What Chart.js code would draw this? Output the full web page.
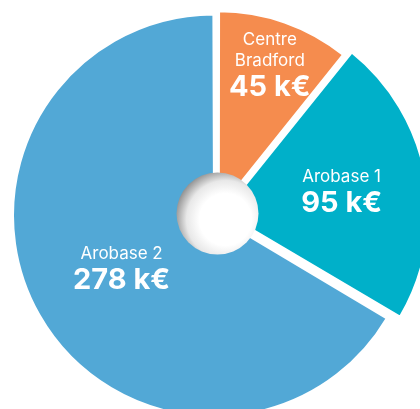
<!DOCTYPE html>
<html>
<head>
<meta charset="utf-8">
<script src="https://cdn.jsdelivr.net/npm/chart.js@4.4.1/dist/chart.umd.min.js"></script>
<style>
  html, body { margin: 0; padding: 0; background: #fff; }
  #wrap { width: 420px; height: 409px; }
</style>
</head>
<body>
<div id="wrap"><canvas id="chart"></canvas></div>
<script>
const categories = [['Centre', 'Bradford'], ['Arobase 1'], ['Arobase 2']];
const amounts = [45, 95, 278];
const unit = 'k€';
const sliceColors = ['#F58C4E', '#00B0C9', '#52A8D6'];

// how far each slice is pulled out, extra radius per slice, and where its label sits (share of radius)
const sliceOffsets = [16, 24, 16];
const sliceGrow = [0, 8, 0];
const labelRadius = [0.78, 0.61, 0.54];

// the teal slice is drawn a little bigger than the others in the original
const growPlugin = {
    id: 'grow',
    afterDatasetUpdate(chart, args) {
        args.meta.data.forEach((arc, i) => {
            arc.outerRadius += sliceGrow[i];
        });
    }
};

// grey "button" in the middle of the pie
const holePlugin = {
    id: 'hole',
    afterDatasetsDraw(chart) {
        const arc = chart.getDatasetMeta(0).data[0];
        const ctx = chart.ctx;
        const x = arc.x, y = arc.y, r = 41;
        const g = ctx.createRadialGradient(x + 8, y + 6, 0, x + 8, y + 6, 52);
        g.addColorStop(0, '#ffffff');
        g.addColorStop(0.5, '#ffffff');
        g.addColorStop(0.75, '#e8e8e8');
        g.addColorStop(1, '#8a8a8a');
        ctx.save();
        ctx.beginPath();
        ctx.arc(x, y, r, 0, Math.PI * 2);
        ctx.fillStyle = g;
        ctx.fill();
        ctx.restore();
    }
};

const labelPlugin = {
    id: 'sliceLabels',
    afterDraw(chart) {
        const ctx = chart.ctx;
        const meta = chart.getDatasetMeta(0);
        ctx.save();
        ctx.fillStyle = '#fff';
        ctx.textAlign = 'center';
        ctx.textBaseline = 'alphabetic';
        meta.data.forEach((arc, i) => {
            const mid = (arc.startAngle + arc.endAngle) / 2;
            const r = (arc.outerRadius - sliceGrow[i]) * labelRadius[i] + sliceOffsets[i] / 4;
            const cx = arc.x + Math.cos(mid) * r;
            const cy = arc.y + Math.sin(mid) * r;
            const names = categories[i];
            const blockH = 12 + (names.length - 1) * 21 + 30;
            let base = cy - blockH / 2 + 12;
            ctx.font = '17px Inter';
            names.forEach(n => {
                ctx.fillText(n, cx, base);
                base += 21;
            });
            base += 9;
            ctx.font = 'bold 29px Inter';
            ctx.fillText(amounts[i] + ' ' + unit, cx, base);
        });
        ctx.restore();
    }
};

new Chart(document.getElementById('chart'), {
    type: 'pie',
    data: {
        labels: categories.map(c => c.join(' ')),
        datasets: [{
            data: amounts,
            backgroundColor: sliceColors,
            borderColor: '#fff',
            borderWidth: 2,
            offset: sliceOffsets,
            hoverOffset: 0
        }]
    },
    options: {
        responsive: true,
        maintainAspectRatio: false,
        animation: false,
        events: [],
        radius: 197,
        layout: { padding: { left: 15, top: 18 } },
        plugins: {
            legend: { display: false },
            tooltip: { enabled: false }
        }
    },
    plugins: [growPlugin, holePlugin, labelPlugin]
});
</script>
</body>
</html>
